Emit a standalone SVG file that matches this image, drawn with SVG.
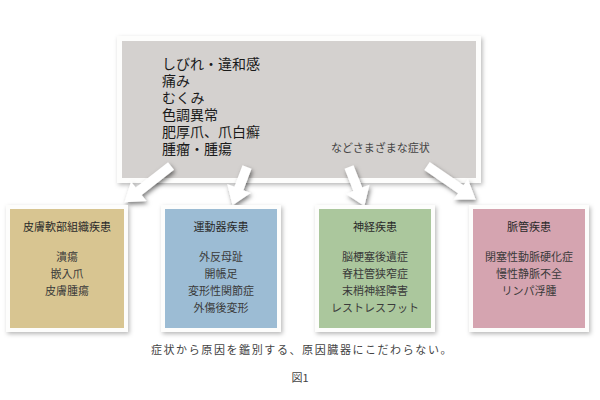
<svg xmlns="http://www.w3.org/2000/svg" width="600" height="400" viewBox="0 0 600 400">
<defs>
<filter id="sh" x="-10%" y="-10%" width="125%" height="130%">
<feDropShadow dx="1.5" dy="2" stdDeviation="2.2" flood-color="#000" flood-opacity="0.28"/>
</filter>
<filter id="ash" filterUnits="userSpaceOnUse" x="0" y="140" width="600" height="100">
<feDropShadow dx="1.5" dy="2.5" stdDeviation="2" flood-color="#000" flood-opacity="0.5"/>
</filter>
<style>
text{font-family:"Noto Sans CJK JP","Noto Sans",sans-serif;}
.frame{fill:#fdfdfc;}
.main{font-size:14px;fill:#1a1a1a;}
.etc{font-size:11px;fill:#444;}
.t{font-size:11px;fill:#2a2a2a;text-anchor:middle;}
.i{font-size:11px;fill:#3a3a3a;text-anchor:middle;}
.cap{font-size:11px;fill:#444;text-anchor:middle;letter-spacing:1.6px;}
.arrow{fill:#ffffff;}
</style>
</defs>
<rect width="600" height="400" fill="#ffffff"/>

<g id="symptoms">
<rect class="frame" x="117" y="36" width="364" height="147" filter="url(#sh)"/>
<rect x="122" y="41" width="354" height="137" fill="#d4d1cf"/>
<text class="main"><tspan x="162" y="68.5">しびれ・違和感</tspan><tspan x="162" y="85.5">痛み</tspan><tspan x="162" y="102.5">むくみ</tspan><tspan x="162" y="119.5">色調異常</tspan><tspan x="162" y="136.5">肥厚爪、爪白癬</tspan><tspan x="162" y="153.5">腫瘤・腫瘍</tspan></text>
<text class="etc" x="331" y="152">などさまざまな症状</text>
</g>

<g id="connectors" filter="url(#ash)">
<polygon class="arrow" transform="translate(171,166) rotate(142)" points="0,-4.8 41,-4.8 41,-12.5 59,0 41,12.5 41,4.8 0,4.8"/>
<polygon class="arrow" transform="translate(247,167) rotate(110.7)" points="0,-4.8 23,-4.8 23,-12.5 41,0 23,12.5 23,4.8 0,4.8"/>
<polygon class="arrow" transform="translate(349,167) rotate(68.5)" points="0,-4.8 24,-4.8 24,-12.5 42,0 24,12.5 24,4.8 0,4.8"/>
<polygon class="arrow" transform="translate(427,166) rotate(34.5)" points="0,-4.8 41,-4.8 41,-12.5 59,0 41,12.5 41,4.8 0,4.8"/>
</g>

<g id="skin">
<rect class="frame" x="6" y="205" width="122" height="127" filter="url(#sh)"/>
<rect x="10" y="209" width="114" height="119" fill="#d8c591"/>
<text class="t" x="67" y="231">皮膚軟部組織疾患</text>
<text class="i" x="67" y="261">潰瘍</text>
<text class="i" x="67" y="278">嵌入爪</text>
<text class="i" x="67" y="295">皮膚腫瘍</text>
</g>

<g id="locomotor">
<rect class="frame" x="161" y="205" width="120" height="127" filter="url(#sh)"/>
<rect x="165" y="209" width="112" height="119" fill="#9cbcd4"/>
<text class="t" x="221" y="231">運動器疾患</text>
<text class="i" x="221" y="261">外反母趾</text>
<text class="i" x="221" y="278">開帳足</text>
<text class="i" x="221" y="295">変形性関節症</text>
<text class="i" x="221" y="312">外傷後変形</text>
</g>

<g id="neuro">
<rect class="frame" x="315" y="205" width="120" height="127" filter="url(#sh)"/>
<rect x="319" y="209" width="112" height="119" fill="#abc79d"/>
<text class="t" x="375" y="231">神経疾患</text>
<text class="i" x="375" y="261">脳梗塞後遺症</text>
<text class="i" x="375" y="278">脊柱管狭窄症</text>
<text class="i" x="375" y="295">末梢神経障害</text>
<text class="i" x="375" y="312">レストレスフット</text>
</g>

<g id="vascular">
<rect class="frame" x="469" y="205" width="120" height="127" filter="url(#sh)"/>
<rect x="473" y="209" width="112" height="119" fill="#d5a4b0"/>
<text class="t" x="529" y="231">脈管疾患</text>
<text class="i" x="529" y="261">閉塞性動脈硬化症</text>
<text class="i" x="529" y="278">慢性静脈不全</text>
<text class="i" x="529" y="295">リンパ浮腫</text>
</g>

<text class="cap" x="302" y="354">症状から原因を鑑別する、原因臓器にこだわらない。</text>
<text class="t" x="300" y="382" style="fill:#444">図1</text>
</svg>
